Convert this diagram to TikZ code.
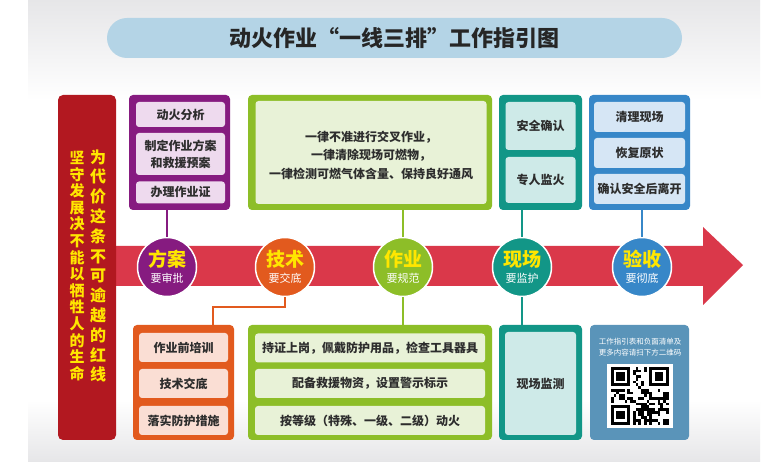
\documentclass[tikz,border=0pt]{standalone}
\usepackage{fontspec}
\setmainfont{Noto Sans CJK SC}
\usepackage{tikz}
\usetikzlibrary{calc}
\definecolor{bgray}{RGB}{230,230,232}
\definecolor{tblue}{RGB}{180,212,230}
\definecolor{bred}{RGB}{178,24,32}
\definecolor{ared}{RGB}{218,56,74}
\definecolor{yel}{RGB}{255,230,0}
\definecolor{txt}{RGB}{45,45,45}
\definecolor{cpur}{RGB}{134,27,128}
\definecolor{lpur}{RGB}{238,218,238}
\definecolor{cora}{RGB}{226,90,30}
\definecolor{lora}{RGB}{250,222,212}
\definecolor{cgre}{RGB}{141,190,40}
\definecolor{lgre}{RGB}{232,242,215}
\definecolor{ctea}{RGB}{18,150,135}
\definecolor{ltea}{RGB}{206,234,232}
\definecolor{cblu}{RGB}{55,135,200}
\definecolor{lblu}{RGB}{214,230,245}
\definecolor{cqr}{RGB}{90,148,185}
\tikzstyle{panel}=[
	rectangle,
	rounded corners=4pt,
	inner sep=0pt
]
\tikzstyle{entry}=[
	rectangle,
	rounded corners=3pt,
	inner sep=0pt,
	align=center,
	text=txt,
	font=\fontsize{12}{17}\selectfont\bfseries
]
\tikzstyle{stage}=[
	circle,
	draw=white,
	line width=1.5pt,
	minimum size=59pt,
	inner sep=0pt
]
\tikzstyle{stagemain}=[
	inner sep=0pt,
	text=yel,
	font=\fontsize{19}{20}\selectfont\bfseries
]
\tikzstyle{stagesub}=[
	inner sep=0pt,
	text=white,
	font=\fontsize{11}{12}\selectfont
]
\tikzstyle{link}=[
	-,
	line width=2pt
]

\begin{document}
\begin{tikzpicture}[x=1pt, y=-1pt]
\useasboundingbox (0,0) rectangle (780,462);
\fill[white] (0,0) rectangle (780,462);
\shade[top color=bgray, bottom color=white] (28,0) rectangle (760,100);
\shade[top color=white, bottom color=bgray] (28,400) rectangle (760,462);

\node[fill=tblue, rounded corners=20pt, minimum width=575pt, minimum height=40pt,
      text=black!85, font=\fontsize{22}{24}\selectfont\bfseries] (title) at (394.5,38)
      {动火作业“一线三排”工作指引图};

\fill[ared] (110,246) -- (703,246) -- (703,227) -- (743,265) -- (703,305) -- (703,286) -- (110,286) -- cycle;

\node[panel, fill=bred, rounded corners=5pt, minimum width=58pt, minimum height=345pt] (banner) at (87,267.5) {};
\node[align=center, inner sep=0pt, text=yel, font=\fontsize{16}{19.8}\selectfont\bfseries] (redline) at (98,266)
    {为\\代\\价\\这\\条\\不\\可\\逾\\越\\的\\红\\线};
\node[align=center, inner sep=0pt, text=yel, font=\fontsize{15}{16.6}\selectfont\bfseries] (bottomline) at (77,266)
    {坚\\守\\发\\展\\决\\不\\能\\以\\牺\\牲\\人\\的\\生\\命};

% upper panels
\node[panel, fill=cpur, minimum width=101pt, minimum height=115pt] (planbox) at (179.5,152.5) {};
\foreach \y/\h/\t in {114.5/25/动火分析, 154/42/{制定作业方案\\和救援预案}, 192.5/22/办理作业证}{
    \node[entry, fill=lpur, minimum width=89pt, minimum height=\h pt] at (180.5,\y) {\t};
}
\node[panel, fill=cgre, minimum width=244pt, minimum height=115pt] (dobox) at (370,152.5) {};
\node[entry, fill=lgre, minimum width=231pt, minimum height=103pt] (donote) at (371,152.5) {};
\node[align=center, inner sep=0pt, text=txt, font=\fontsize{12}{18.5}\selectfont\bfseries] (dotext) at (371,155)
    {一律不准进行交叉作业，\\一律清除现场可燃物，\\一律检测可燃气体含量、保持良好通风};
\node[panel, fill=ctea, minimum width=83pt, minimum height=115pt] (guardbox) at (540.5,152.5) {};
\foreach \y/\h/\t in {126/48/安全确认, 180/46/专人监火}{
    \node[entry, fill=ltea, minimum width=70pt, minimum height=\h pt] at (540.5,\y) {\t};
}
\node[panel, fill=cblu, minimum width=101pt, minimum height=115pt] (checkbox) at (639.5,152.5) {};
\foreach \y/\t in {117/清理现场, 153/恢复原状, 189/确认安全后离开}{
    \node[entry, fill=lblu, minimum width=91pt, minimum height=30pt] at (639.5,\y) {\t};
}

% lower panels
\node[panel, fill=cora, minimum width=101pt, minimum height=115pt] (trainbox) at (183.5,382.5) {};
\foreach \y/\t in {347.5/作业前培训, 383.5/技术交底, 420.5/落实防护措施}{
    \node[entry, fill=lora, minimum width=89pt, minimum height=29pt] at (183.5,\y) {\t};
}
\node[panel, fill=cgre, minimum width=244pt, minimum height=115pt] (rulebox) at (370,382.5) {};
\foreach \y/\t in {348/持证上岗，佩戴防护用品，检查工具器具, 383.5/配备救援物资，设置警示标示, 420.5/按等级（特殊、一级、二级）动火}{
    \node[entry, fill=lgre, minimum width=230pt, minimum height=29pt] at (370,\y) {\t};
}
\node[panel, fill=ctea, minimum width=83pt, minimum height=115pt] (watchbox) at (540.5,382.5) {};
\node[entry, fill=ltea, minimum width=71pt, minimum height=103pt] (watch) at (540.5,383.5) {现场监测};
\node[panel, fill=cqr, minimum width=99pt, minimum height=115pt] (qrbox) at (639.5,382.5) {};
\node[align=center, inner sep=0pt, text=white, font=\fontsize{7.5}{11}\selectfont] (qrnote) at (640,347.5)
    {工作指引表和负面清单及\\更多内容请扫下方二维码};
\node[fill=white, minimum width=66pt, minimum height=64pt, inner sep=0pt] (qr) at (640,396) {};

\def\qm{2.75}
\pgfmathsetseed{11}
\begin{scope}[shift={($(qr.north west)+(4.125pt,-3.125pt)$)}]
    \foreach \i/\j in {0/0, 14/0, 0/14}{
        \fill[black] (\i*\qm,\j*\qm) rectangle ++(7*\qm,7*\qm);
        \fill[white] (\i*\qm+\qm,\j*\qm+\qm) rectangle ++(5*\qm,5*\qm);
        \fill[black] (\i*\qm+2*\qm,\j*\qm+2*\qm) rectangle ++(3*\qm,3*\qm);
    }
    \foreach \i in {0,...,20}{
        \foreach \j in {0,...,20}{
            \pgfmathtruncatemacro\qrfin{or(or(and(\i<8,\j<8),and(\i>12,\j<8)),and(\i<8,\j>12))}
            \pgfmathtruncatemacro\qron{rnd<0.5}
            \ifnum\qrfin=0 \ifnum\qron=1
                \fill[black] (\i*\qm,\j*\qm) rectangle ++(\qm,\qm);
            \fi\fi
        }
    }
\end{scope}

% stages on the arrow
\foreach \x/\n/\c/\a/\b in {167/fangan/cpur/方案/要审批, 285/jishu/cora/技术/要交底,
        403/zuoye/cgre/作业/要规范, 522/xianchang/ctea/现场/要监护, 642/yanshou/cblu/验收/要彻底}{
    \node[stage, fill=\c] (\n) at (\x,267) {};
    \node[stagemain] (\n-a) at (\x,259) {\a};
    \node[stagesub] (\n-b) at (\x,278.5) {\b};
}

\draw[link, cpur] (fangan.north) -- (fangan.north |- planbox.south);
\draw[link, cgre] (zuoye.north) -- (zuoye.north |- dobox.south);
\draw[link, ctea] (xianchang.north) -- (xianchang.north |- guardbox.south);
\draw[link, cblu] (yanshou.north) -- (yanshou.north |- checkbox.south);
\draw[link, cora] (jishu.south) -- ++(0,10) -| ([xshift=29.5pt]trainbox.north);
\draw[link, cgre] (zuoye.south) -- (zuoye.south |- rulebox.north);
\draw[link, ctea] (xianchang.south) -- (xianchang.south |- watchbox.north);
\end{tikzpicture}
\end{document}
